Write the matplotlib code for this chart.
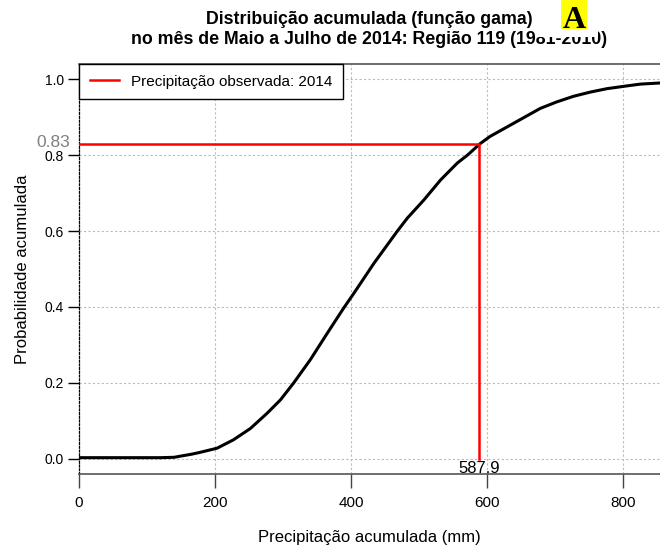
import matplotlib.pyplot as plt
from matplotlib.patches import Rectangle

plt.rcParams['font.family'] = ['Liberation Sans', 'DejaVu Sans']

# curva acumulada
precip = [0, 60, 120, 140, 149, 165, 178, 203, 227, 252, 276.5, 296, 315.6, 340,
          365, 389, 404, 433.5, 468, 482.6, 507, 531.7, 556, 571, 589.5, 604, 630,
          650, 678, 702, 727, 751.5, 776, 804, 825, 854]
prob = [0.003, 0.003, 0.003, 0.004, 0.007, 0.012, 0.017, 0.028, 0.05, 0.08, 0.12,
        0.155, 0.2, 0.261, 0.331, 0.397, 0.436, 0.515, 0.6, 0.634, 0.682, 0.735,
        0.779, 0.8, 0.83, 0.849, 0.875, 0.895, 0.923, 0.94, 0.955, 0.966, 0.975,
        0.982, 0.987, 0.99]

obs_x = 587.9
obs_p = 0.83
xticks = [0, 200, 400, 600, 800]
yticks = [0.0, 0.2, 0.4, 0.6, 0.8, 1.0]

fig = plt.figure(figsize=(6.6, 5.47), dpi=100)
ax = fig.add_axes([79 / 660, 1 - 474 / 547, 1 - 79 / 660, (474 - 64) / 547])

ax.plot(precip, prob, color='black', lw=2.2, zorder=3)
ax.plot([0, obs_x, obs_x], [obs_p, obs_p, 0], color='red', lw=1.8, zorder=4,
        label='Precipitação observada: 2014')

ax.set_xlim(0, 854)
ax.set_ylim(-0.04, 1.04)
ax.set_xticks(xticks)
ax.set_yticks(yticks)
ax.set_yticklabels(['%.1f' % v for v in yticks])
ax.grid(True, color='#bbbbbb', linestyle=(0, (2, 2)), lw=0.8)
ax.tick_params(axis='x', length=10, width=1, labelsize=11, pad=6, color='#444444')
ax.tick_params(axis='y', length=8, width=1, labelsize=10, pad=3)

ax.spines['right'].set_visible(False)
ax.spines['top'].set_color('#555555')
ax.spines['bottom'].set_color('#555555')
ax.spines['top'].set_linewidth(1.2)
ax.spines['bottom'].set_linewidth(1.2)
ax.spines['left'].set_linestyle((0, (1.5, 1.5)))
ax.spines['left'].set_linewidth(0.9)

ax.set_xlabel('Precipitação acumulada (mm)', fontsize=12, labelpad=14)
ax.set_ylabel('Probabilidade acumulada', fontsize=12, labelpad=10)

ax.text(-13, obs_p + 0.004, '%.2f' % obs_p, color='#808080', fontsize=12.5,
        ha='right', va='center', clip_on=False)
ax.text(obs_x, -0.005, '%.1f' % obs_x, color='black', fontsize=12,
        ha='center', va='top')

leg = ax.legend(loc='upper left', bbox_to_anchor=(0, 1), borderaxespad=0,
                fancybox=False, edgecolor='black', fontsize=11, handlelength=1.9,
                borderpad=0.7, framealpha=1)
leg.get_frame().set_linewidth(1)

fig.text(369 / 660, 1 - 19 / 547, 'Distribuição acumulada (função gama)',
         ha='center', va='center', fontsize=12.8, fontweight='bold')
fig.text(369 / 660, 1 - 40 / 547,
         'no mês de Maio a Julho de 2014: Região 119 (1981-2010)',
         ha='center', va='center', fontsize=12.8, fontweight='bold')

# faixa branca e caixa amarela da letra
fig.patches.append(Rectangle((535 / 660, 1 - 37 / 547), 63 / 660, 37 / 547,
                             transform=fig.transFigure, facecolor='white',
                             edgecolor='none', zorder=5))
fig.patches.append(Rectangle((561 / 660, 1 - 29 / 547), 26 / 660, 29 / 547,
                             transform=fig.transFigure, facecolor='yellow',
                             edgecolor='none', zorder=6))
fig.text(574 / 660, 1 - 28 / 547, 'A', ha='center', va='baseline', fontsize=23,
         fontweight='bold', family='Liberation Serif', zorder=7)

plt.savefig('out.png', dpi=100)
